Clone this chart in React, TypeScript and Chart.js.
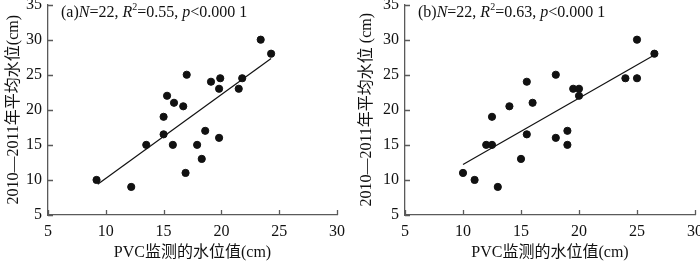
import React, { useEffect, useRef } from "react";
import { Chart, registerables } from "chart.js";

Chart.register(...registerables);

// Panel (a)
const pvcA = [9.2, 12.2, 13.5, 15.0, 15.0, 15.3, 15.8, 15.9, 16.7, 16.9, 17.0, 17.9, 18.3, 18.6, 19.1, 19.8, 19.8, 19.9, 21.5, 21.8, 23.4, 24.3];
const levelA = [10, 9, 15, 16.5, 19, 22, 15, 21, 20.5, 11, 25, 15, 13, 17, 24, 16, 23, 24.5, 23, 24.5, 30, 28];
const fitA = [{ x: 9.3, y: 9.4 }, { x: 24.3, y: 27.3 }];

// Panel (b)
const pvcB = [10, 11, 12, 12.5, 12.5, 13, 14, 15, 15.5, 15.5, 16, 18, 18, 19, 19, 19.5, 20, 20, 24, 25, 25, 26.5];
const levelB = [11, 10, 15, 19, 15, 9, 20.5, 13, 24, 16.5, 21, 25, 16, 17, 15, 23, 23, 22, 24.5, 24.5, 30, 28];
const fitB = [{ x: 10, y: 12.2 }, { x: 26.5, y: 27.8 }];

const xTicks = [5, 10, 15, 20, 25, 30];
const yTicks = [5, 10, 15, 20, 25, 30, 35];

const FONT = "'Liberation Serif', 'Times New Roman', 'Noto Sans CJK SC', serif";
const AXIS_COLOR = "#5a5a5a";

type Seg = { t: string; italic?: boolean; sup?: boolean };

function annotation(tag: string, r2: string): Seg[] {
  return [
    { t: `(${tag})` },
    { t: "N", italic: true },
    { t: "=22, " },
    { t: "R", italic: true },
    { t: "2", sup: true },
    { t: `=${r2}, ` },
    { t: "p", italic: true },
    { t: "<0.000 1" },
  ];
}

function makeConfig(
  xs: number[],
  ys: number[],
  fit: { x: number; y: number }[],
  segs: Seg[],
  yTitle: string,
  yAxisWidth: number,
  rightPad: number,
  yTitlePad: number
): any {
  const innerTicks = {
    id: "innerTicks",
    afterDatasetsDraw(chart: any) {
      const ctx = chart.ctx;
      const { left, bottom } = chart.chartArea;
      const xs = chart.scales.x;
      const ys = chart.scales.y;
      ctx.save();
      ctx.strokeStyle = AXIS_COLOR;
      ctx.lineWidth = 1.3;
      ctx.beginPath();
      xTicks.forEach((v) => {
        const px = Math.round(xs.getPixelForValue(v)) + 0.5;
        ctx.moveTo(px, bottom);
        ctx.lineTo(px, bottom - 5);
      });
      yTicks.forEach((v) => {
        const py = Math.round(ys.getPixelForValue(v)) + 0.5;
        ctx.moveTo(left, py);
        ctx.lineTo(left + 5, py);
      });
      ctx.stroke();
      // annotation text
      let x = left + 13;
      const y = 16.5;
      ctx.fillStyle = "#111";
      ctx.textBaseline = "alphabetic";
      segs.forEach((s) => {
        const size = s.sup ? 10 : 16;
        ctx.font = `${s.italic ? "italic " : ""}${size}px ${FONT}`;
        ctx.fillText(s.t, x, s.sup ? y - 7 : y);
        x += ctx.measureText(s.t).width;
      });
      ctx.restore();
    },
  };

  return {
    type: "scatter",
    data: {
      datasets: [
        {
          type: "scatter",
          data: xs.map((x, i) => ({ x, y: ys[i] })),
          backgroundColor: "#111",
          borderColor: "#111",
          pointRadius: 3.6,
          pointHoverRadius: 3.6,
        },
        {
          type: "line",
          data: fit,
          borderColor: "#111",
          borderWidth: 1.2,
          pointRadius: 0,
          fill: false,
        },
      ],
    },
    options: {
      responsive: false,
      animation: false,
      events: [],
      layout: { padding: { top: 3, right: rightPad, left: 0, bottom: 0 } },
      plugins: { legend: { display: false }, tooltip: { enabled: false } },
      scales: {
        x: {
          type: "linear",
          min: 5,
          max: 30,
          afterBuildTicks: (s: any) => {
            s.ticks = xTicks.map((v) => ({ value: v }));
          },
          afterFit: (s: any) => {
            s.height = 47;
            s.paddingLeft = 0;
            s.paddingRight = 0;
          },
          grid: { display: true, drawOnChartArea: false, drawTicks: false },
          border: { display: true, color: AXIS_COLOR, width: 1.3 },
          ticks: {
            color: "#111",
            padding: 7,
            font: { family: FONT, size: 16 },
            maxRotation: 0,
          },
          title: {
            display: true,
            text: "PVC监测的水位值(cm)",
            color: "#111",
            font: { family: FONT, size: 16 },
            padding: { top: 0, bottom: 0 },
          },
        },
        y: {
          type: "linear",
          min: 5,
          max: 35,
          afterBuildTicks: (s: any) => {
            s.ticks = yTicks.map((v) => ({ value: v }));
          },
          afterFit: (s: any) => {
            s.width = yAxisWidth;
            s.paddingTop = 0;
            s.paddingBottom = 0;
          },
          grid: { display: true, drawOnChartArea: false, drawTicks: false },
          border: { display: true, color: AXIS_COLOR, width: 1.3 },
          ticks: {
            color: "#111",
            padding: 6,
            font: { family: FONT, size: 16 },
          },
          title: {
            display: true,
            text: yTitle,
            color: "#111",
            font: { family: FONT, size: 16 },
            padding: { top: yTitlePad, bottom: 0 },
          },
        },
      },
    },
    plugins: [innerTicks],
  };
}

function Panel(props: { cfg: any }) {
  const ref = useRef<HTMLCanvasElement | null>(null);
  useEffect(() => {
    if (!ref.current) return;
    const chart = new Chart(ref.current, props.cfg);
    return () => chart.destroy();
  }, []);
  return <canvas ref={ref} width={350} height={262} style={{ display: "block", width: 350, height: 262 }} />;
}

export default function App() {
  const cfgA = makeConfig(pvcA, levelA, fitA, annotation("a", "0.55"), "2010—2011年平均水位(cm)", 48, 13, 4);
  const cfgB = makeConfig(pvcB, levelB, fitB, annotation("b", "0.63"), "2010—2011年平均水位 (cm)", 55, 5, 7);
  return (
    <div style={{ position: "absolute", left: 0, top: 0, width: 700, height: 262, display: "flex", background: "#fff" }}>
      <Panel cfg={cfgA} />
      <Panel cfg={cfgB} />
    </div>
  );
}
